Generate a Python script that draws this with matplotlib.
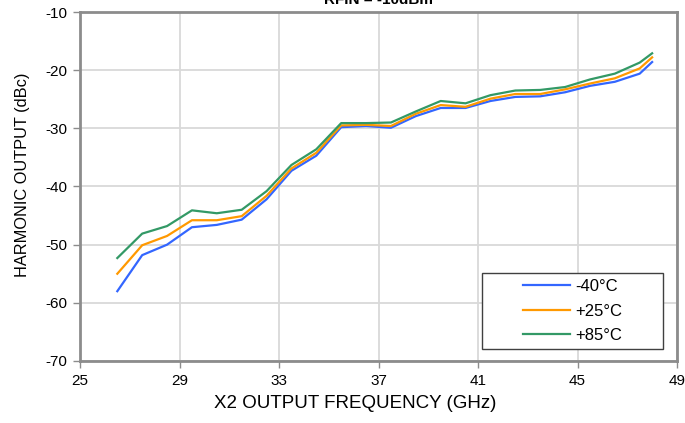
import matplotlib
matplotlib.use("Agg")
import matplotlib.pyplot as plt
from matplotlib.patches import Rectangle

freq = [26.5, 27.5, 28.5, 29.5, 30.5, 31.5, 32.5, 33.5, 34.5, 35.5, 36.5, 37.5,
        38.5, 39.5, 40.5, 41.5, 42.5, 43.5, 44.5, 45.5, 46.5, 47.5, 48.0]
t_m40 = [-58.0, -51.8, -50.0, -47.0, -46.6, -45.7, -42.2, -37.3, -34.7, -29.8, -29.6, -29.9,
         -27.9, -26.5, -26.5, -25.3, -24.6, -24.5, -23.8, -22.7, -22.0, -20.6, -18.6]
t_p25 = [-55.0, -50.1, -48.5, -45.8, -45.8, -45.1, -41.6, -36.9, -34.2, -29.5, -29.4, -29.6,
         -27.5, -26.0, -26.3, -24.9, -24.1, -24.1, -23.3, -22.3, -21.4, -19.7, -17.8]
t_p85 = [-52.3, -48.1, -46.8, -44.1, -44.6, -44.0, -40.8, -36.3, -33.6, -29.1, -29.1, -29.0,
         -27.1, -25.3, -25.7, -24.3, -23.5, -23.4, -22.9, -21.6, -20.6, -18.7, -17.1]
labels = ["-40°C", "+25°C", "+85°C"]
colors = ["#3366FF", "#FF9900", "#339966"]
x_ticks = [25, 29, 33, 37, 41, 45, 49]
y_ticks = [-70, -60, -50, -40, -30, -20, -10]

plt.rcParams['font.family'] = ['Liberation Sans', 'DejaVu Sans']
plt.rcParams['axes.unicode_minus'] = False

W, H = 685, 423
fig = plt.figure(figsize=(W/100, H/100), dpi=100)
ax = fig.add_axes([80/W, 1-361/H, (677-80)/W, (361-12)/H])

for ys, lab, c in zip([t_m40, t_p25, t_p85], labels, colors):
    ax.plot(freq, ys, color=c, lw=1.6, label=lab)

ax.set_xlim(25, 49)
ax.set_ylim(-70, -10)
ax.set_xticks(x_ticks)
ax.set_yticks(y_ticks)
ax.grid(True, color="#d9d9d9", lw=1.3)
ax.set_axisbelow(True)
for s in ax.spines.values():
    s.set_color("#8c8c8c")
    s.set_linewidth(2)
ax.tick_params(axis='both', length=5, width=1, color="#8c8c8c", labelsize=11, pad=4)
ax.set_xlabel("X2 OUTPUT FREQUENCY (GHz)", fontsize=13.5)
ax.xaxis.set_label_coords((355-80)/597, -(412-361)/349)
ax.xaxis.label.set_va("bottom")
ax.set_ylabel("HARMONIC OUTPUT (dBc)", fontsize=11.8)
ax.yaxis.set_label_coords(-(80-23)/597, (361-175)/349)
ax.yaxis.label.set_va("center")

# legend frame (Excel-style, wide box)
frame = Rectangle((482/W, 1-349/H), 181/W, 76/H, transform=fig.transFigure,
                  facecolor="white", edgecolor="#404040", lw=1, zorder=4, clip_on=False)
ax.add_patch(frame)
leg = ax.legend(loc="center left", bbox_to_anchor=(523/W, 1-311/H),
                bbox_transform=fig.transFigure, fontsize=12, frameon=False,
                handlelength=2.82, borderpad=0, labelspacing=0.57,
                borderaxespad=0, handletextpad=0.3)
leg.set_zorder(5)

fig.text(378/W, 1-4/H, "RFIN = -10dBm", ha="center", va="baseline",
         fontsize=11, fontweight="bold")

fig.savefig("out.png", dpi=100)
